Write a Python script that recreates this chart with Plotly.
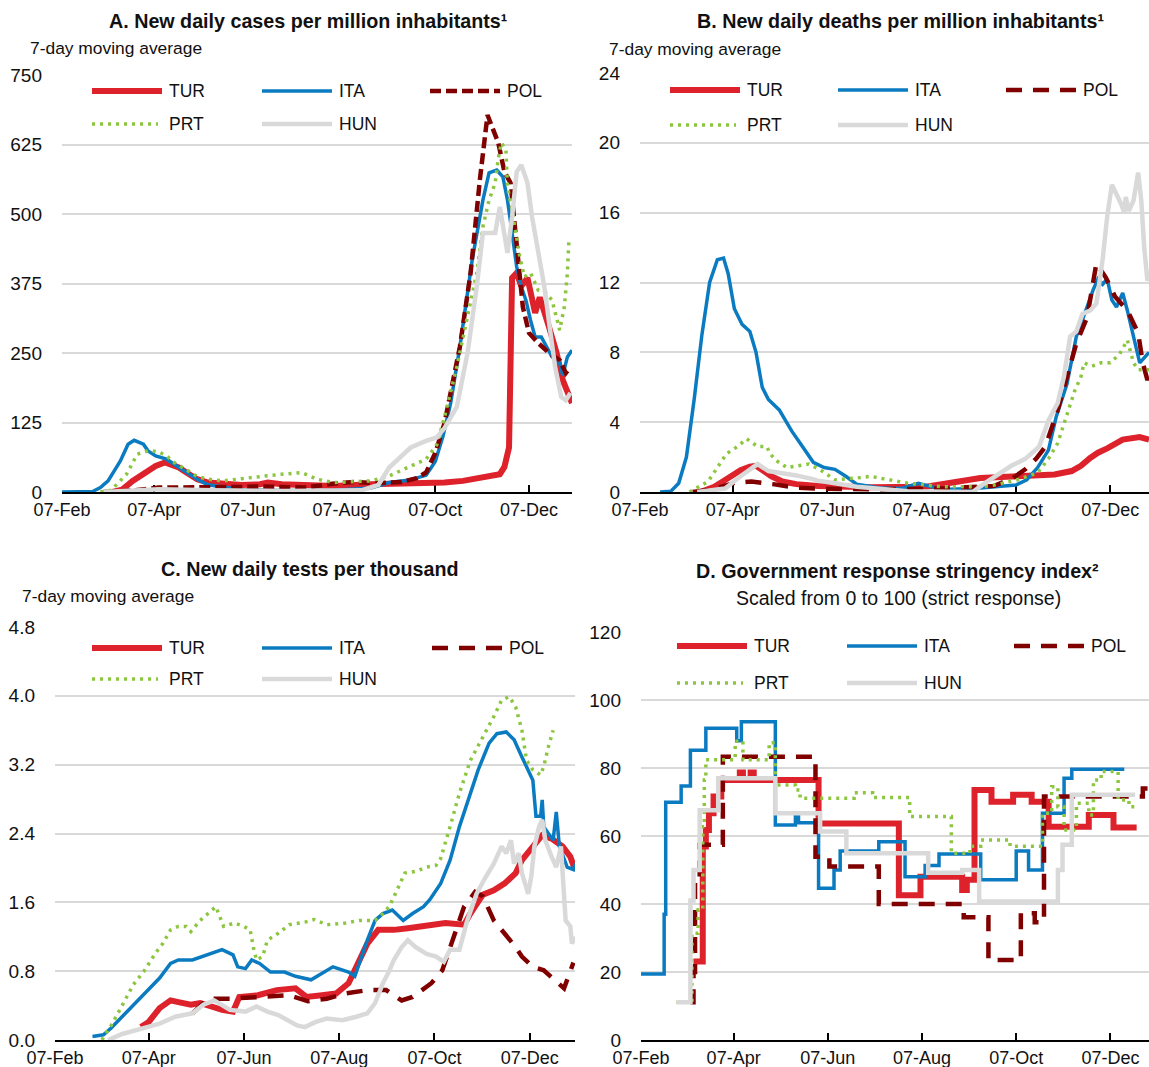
import plotly.graph_objects as go

# ---------------- data ----------------
tick_dates = ["2020-02-07", "2020-04-07", "2020-06-07", "2020-08-07", "2020-10-07", "2020-12-07"]
country_names = ["TUR", "ITA", "POL", "PRT", "HUN"]

# A. New daily cases per million inhabitants (7-day moving average)
a_tur_dates = ["2020-03-11", "2020-03-17", "2020-03-24", "2020-04-01", "2020-04-08", "2020-04-14", "2020-04-18",
               "2020-04-23", "2020-04-28", "2020-05-05", "2020-05-12", "2020-05-22", "2020-06-03", "2020-06-15",
               "2020-06-20", "2020-06-29", "2020-07-09", "2020-08-02", "2020-08-26", "2020-09-19", "2020-10-01",
               "2020-10-13", "2020-10-25", "2020-11-06", "2020-11-18", "2020-11-21", "2020-11-23", "2020-11-24",
               "2020-11-26", "2020-11-29", "2020-12-02", "2020-12-06", "2020-12-11", "2020-12-14", "2020-12-20",
               "2020-12-25", "2020-12-29", "2021-01-04"]
a_tur_vals = [0, 4, 20, 35, 47, 53, 50, 44, 35, 23, 17, 14, 12.5, 14, 17, 14, 12.5, 11, 14, 15, 17, 17, 20, 25, 32,
              45, 70, 80, 385, 394, 370, 385, 322, 350, 297, 250, 201, 160]

a_ita_dates = ["2020-02-07", "2020-02-22", "2020-02-27", "2020-03-03", "2020-03-08", "2020-03-16", "2020-03-21",
               "2020-03-25", "2020-03-31", "2020-04-03", "2020-04-08", "2020-04-15", "2020-04-23", "2020-04-28",
               "2020-05-05", "2020-05-12", "2020-05-22", "2020-06-03", "2020-06-27", "2020-08-02", "2020-08-26",
               "2020-09-07", "2020-09-19", "2020-10-01", "2020-10-07", "2020-10-12", "2020-10-17", "2020-10-23",
               "2020-10-31", "2020-11-07", "2020-11-11", "2020-11-16", "2020-11-20", "2020-11-23", "2020-11-26",
               "2020-11-29", "2020-12-02", "2020-12-05", "2020-12-08", "2020-12-11", "2020-12-15", "2020-12-19",
               "2020-12-22", "2020-12-27", "2020-12-29", "2021-01-01", "2021-01-04"]
a_ita_vals = [0, 0, 1, 8, 20, 56, 86, 93, 86, 74, 65, 59, 44, 35, 23, 13, 9, 4, 2.5, 3, 7, 17, 21, 30, 55, 100, 160,
              261, 417, 525, 574, 579, 567, 525, 466, 405, 369, 345, 309, 279, 279, 259, 243, 232, 210, 243, 255]

a_pol_dates = ["2020-03-05", "2020-03-25", "2020-04-10", "2020-04-25", "2020-05-10", "2020-06-01", "2020-06-15",
               "2020-07-01", "2020-07-15", "2020-08-01", "2020-08-15", "2020-09-01", "2020-09-15", "2020-09-25",
               "2020-10-01", "2020-10-07", "2020-10-13", "2020-10-23", "2020-10-30", "2020-11-05", "2020-11-10",
               "2020-11-17", "2020-11-21", "2020-11-25", "2020-11-29", "2020-12-03", "2020-12-07", "2020-12-13",
               "2020-12-20", "2020-12-27", "2020-12-31", "2021-01-03"]
a_pol_vals = [0, 3, 8, 8, 7, 9, 10, 8, 8, 15, 18, 16, 18, 25, 35, 70, 124, 261, 394, 561, 678, 628, 576, 556, 453,
              333, 286, 268, 250, 237, 214, 225]

a_prt_dates = ["2020-03-03", "2020-03-10", "2020-03-20", "2020-03-27", "2020-04-04", "2020-04-10", "2020-04-15",
               "2020-04-20", "2020-04-28", "2020-05-05", "2020-05-12", "2020-05-22", "2020-06-03", "2020-06-15",
               "2020-06-29", "2020-07-12", "2020-07-22", "2020-08-02", "2020-08-14", "2020-08-26", "2020-09-07",
               "2020-09-19", "2020-10-01", "2020-10-08", "2020-10-13", "2020-10-21", "2020-10-28", "2020-11-03",
               "2020-11-07", "2020-11-11", "2020-11-15", "2020-11-17", "2020-11-19", "2020-11-22", "2020-11-23",
               "2020-11-26", "2020-12-01", "2020-12-04", "2020-12-08", "2020-12-13", "2020-12-18", "2020-12-22",
               "2020-12-27", "2020-12-30", "2021-01-01", "2021-01-02"]
a_prt_vals = [0, 3, 32, 68, 75, 72, 65, 53, 40, 28, 23, 20, 24, 28, 32, 35, 23, 17, 18, 20, 29, 44, 59, 85, 135,
              225, 315, 394, 477, 525, 556, 600, 628, 615, 549, 507, 423, 387, 394, 363, 358, 345, 291, 333, 394, 453]

a_hun_dates = ["2020-03-05", "2020-04-10", "2020-05-15", "2020-07-01", "2020-08-20", "2020-08-31", "2020-09-07",
               "2020-09-14", "2020-09-21", "2020-10-01", "2020-10-08", "2020-10-13", "2020-10-21", "2020-10-28",
               "2020-11-03", "2020-11-07", "2020-11-11", "2020-11-15", "2020-11-18", "2020-11-23", "2020-11-26",
               "2020-11-29", "2020-12-02", "2020-12-06", "2020-12-09", "2020-12-13", "2020-12-17", "2020-12-21",
               "2020-12-24", "2020-12-28", "2020-12-31", "2021-01-03"]
a_hun_vals = [0, 5, 3, 2, 3, 13, 44, 62, 80, 92, 98, 115, 153, 250, 369, 466, 466, 466, 513, 430, 495, 576, 588,
              556, 495, 435, 369, 286, 225, 171, 165, 178]

# B. New daily deaths per million inhabitants (7-day moving average)
b_tur_dates = ["2020-03-17", "2020-03-20", "2020-03-26", "2020-04-01", "2020-04-06", "2020-04-12", "2020-04-18",
               "2020-04-22", "2020-04-27", "2020-05-02", "2020-05-09", "2020-05-18", "2020-06-01", "2020-07-05",
               "2020-08-10", "2020-08-21", "2020-09-02", "2020-09-14", "2020-10-08", "2020-11-01", "2020-11-12",
               "2020-11-18", "2020-11-24", "2020-11-29", "2020-12-05", "2020-12-15", "2020-12-26", "2021-01-01"]
b_tur_vals = [0, 0.1, 0.3, 0.63, 0.95, 1.25, 1.45, 1.5, 1.2, 0.9, 0.6, 0.45, 0.35, 0.27, 0.3, 0.45, 0.7, 0.8, 0.9,
              1.0, 1.2, 1.5, 1.95, 2.25, 2.5, 3.0, 3.15, 3.0]

b_ita_dates = ["2020-02-20", "2020-02-27", "2020-03-03", "2020-03-08", "2020-03-13", "2020-03-18", "2020-03-23",
               "2020-03-28", "2020-04-01", "2020-04-04", "2020-04-08", "2020-04-13", "2020-04-18", "2020-04-22",
               "2020-04-26", "2020-04-30", "2020-05-07", "2020-05-11", "2020-05-15", "2020-05-22", "2020-05-29",
               "2020-06-05", "2020-06-12", "2020-06-19", "2020-06-26", "2020-07-10", "2020-07-25", "2020-08-05",
               "2020-08-10", "2020-08-20", "2020-09-10", "2020-09-25", "2020-10-07", "2020-10-14", "2020-10-21",
               "2020-10-28", "2020-11-02", "2020-11-09", "2020-11-15", "2020-11-22", "2020-11-26", "2020-11-29",
               "2020-12-02", "2020-12-05", "2020-12-08", "2020-12-11", "2020-12-15", "2020-12-18", "2020-12-21",
               "2020-12-26", "2021-01-01"]
b_ita_vals = [0, 0.05, 0.5, 2, 5.3, 9, 12, 13.3, 13.4, 12.5, 10.5, 9.6, 9.2, 8, 6, 5.3, 4.7, 4.1, 3.5, 2.6, 1.7,
              1.4, 1.3, 0.9, 0.45, 0.25, 0.2, 0.5, 0.4, 0.15, 0.2, 0.3, 0.4, 0.7, 1.4, 2.4, 4.3, 6.2, 8.9, 10.6,
              11.6, 12.2, 11.9, 12.2, 11.0, 10.6, 11.4, 10.4, 9.3, 7.4, 8.0]

b_pol_dates = ["2020-03-12", "2020-03-25", "2020-04-08", "2020-04-19", "2020-05-03", "2020-05-18", "2020-06-01",
               "2020-07-05", "2020-08-21", "2020-09-23", "2020-10-05", "2020-10-13", "2020-10-20", "2020-10-26",
               "2020-11-03", "2020-11-09", "2020-11-15", "2020-11-22", "2020-11-27", "2020-11-28", "2020-12-04",
               "2020-12-10", "2020-12-18", "2020-12-25", "2020-12-28", "2020-12-31", "2021-01-01"]
b_pol_vals = [0, 0.15, 0.52, 0.6, 0.45, 0.25, 0.2, 0.15, 0.2, 0.35, 0.8, 1.3, 1.9, 2.6, 4.7, 6.6, 8.5, 10.0, 12.7,
              13.1, 12.3, 11.2, 10.4, 9.1, 7.4, 6.4, 7.0]

b_prt_dates = ["2020-03-10", "2020-03-22", "2020-04-03", "2020-04-10", "2020-04-16", "2020-04-23", "2020-04-29",
               "2020-05-01", "2020-05-05", "2020-05-12", "2020-05-19", "2020-05-26", "2020-06-02", "2020-06-12",
               "2020-06-26", "2020-07-05", "2020-07-17", "2020-07-29", "2020-08-21", "2020-09-14", "2020-09-23",
               "2020-10-08", "2020-10-21", "2020-10-28", "2020-11-03", "2020-11-09", "2020-11-14", "2020-11-18",
               "2020-11-20", "2020-11-25", "2020-12-01", "2020-12-07", "2020-12-13", "2020-12-18", "2020-12-22",
               "2020-12-25", "2021-01-01"]
b_prt_vals = [0, 0.6, 2.2, 2.6, 3.05, 2.6, 2.6, 2.2, 1.8, 1.4, 1.5, 1.6, 1.3, 0.7, 0.8, 0.9, 0.7, 0.5, 0.3, 0.3,
              0.4, 0.7, 1.1, 1.9, 2.8, 4.5, 5.8, 6.6, 7.4, 7.2, 7.4, 7.4, 7.9, 8.7, 7.4, 7.0, 7.0]

b_hun_dates = ["2020-03-15", "2020-04-02", "2020-04-12", "2020-04-23", "2020-04-30", "2020-05-09", "2020-05-18",
               "2020-05-28", "2020-06-01", "2020-06-12", "2020-06-26", "2020-07-29", "2020-08-21", "2020-09-09",
               "2020-09-16", "2020-09-24", "2020-10-04", "2020-10-13", "2020-10-22", "2020-10-28", "2020-11-03",
               "2020-11-07", "2020-11-11", "2020-11-15", "2020-11-19", "2020-11-24", "2020-11-28", "2020-12-02",
               "2020-12-05", "2020-12-08", "2020-12-11", "2020-12-14", "2020-12-16", "2020-12-17", "2020-12-19",
               "2020-12-22", "2020-12-25", "2020-12-27", "2020-12-29", "2020-12-31", "2021-01-01"]
b_hun_vals = [0, 0.2, 0.9, 1.6, 1.2, 1.1, 0.95, 0.75, 0.65, 0.5, 0.3, 0.05, 0.0, 0.0, 0.45, 0.95, 1.5, 1.9, 2.6,
              4.1, 5.1, 6.6, 8.9, 9.2, 10.2, 10.4, 10.8, 13.3, 15.8, 17.6, 17.1, 16.5, 16.0, 16.9, 16.1, 16.7, 18.3,
              16.7, 13.9, 12.1, 12.3]

# C. New daily tests per thousand (7-day moving average)
c_tur_dates = ["2020-04-02", "2020-04-07", "2020-04-14", "2020-04-21", "2020-04-26", "2020-05-04", "2020-05-10",
               "2020-05-17", "2020-05-24", "2020-05-31", "2020-06-04", "2020-06-16", "2020-06-28", "2020-07-10",
               "2020-07-17", "2020-07-27", "2020-08-05", "2020-08-13", "2020-08-18", "2020-08-25", "2020-09-01",
               "2020-09-11", "2020-09-20", "2020-10-02", "2020-10-14", "2020-10-26", "2020-10-30", "2020-11-07",
               "2020-11-14", "2020-11-21", "2020-11-28", "2020-12-02", "2020-12-09", "2020-12-15", "2020-12-21",
               "2020-12-28", "2021-01-02", "2021-01-05"]
c_tur_vals = [0.15, 0.21, 0.37, 0.46, 0.44, 0.41, 0.43, 0.39, 0.35, 0.33, 0.5, 0.52, 0.58, 0.6, 0.5, 0.52, 0.54,
              0.66, 0.85, 1.12, 1.28, 1.28, 1.30, 1.33, 1.36, 1.34, 1.47, 1.69, 1.74, 1.82, 1.94, 2.09, 2.25, 2.38,
              2.34, 2.25, 2.13, 1.98]

c_ita_dates = ["2020-03-02", "2020-03-09", "2020-03-14", "2020-03-21", "2020-03-28", "2020-04-04", "2020-04-11",
               "2020-04-14", "2020-04-21", "2020-04-26", "2020-05-05", "2020-05-15", "2020-05-24", "2020-05-31",
               "2020-06-03", "2020-06-08", "2020-06-12", "2020-06-17", "2020-06-24", "2020-07-03", "2020-07-10",
               "2020-07-20", "2020-07-27", "2020-08-03", "2020-08-13", "2020-08-17", "2020-08-25", "2020-08-30",
               "2020-09-04", "2020-09-10", "2020-09-17", "2020-09-23", "2020-09-30", "2020-10-04", "2020-10-11",
               "2020-10-17", "2020-10-23", "2020-10-30", "2020-11-04", "2020-11-11", "2020-11-16", "2020-11-22",
               "2020-11-27", "2020-12-02", "2020-12-09", "2020-12-11", "2020-12-14", "2020-12-15", "2020-12-16",
               "2020-12-22", "2020-12-24", "2020-12-26", "2020-12-31", "2021-01-04", "2021-01-05"]
c_ita_vals = [0.04, 0.06, 0.14, 0.27, 0.41, 0.54, 0.66, 0.72, 0.89, 0.93, 0.93, 0.99, 1.05, 0.99, 0.85, 0.83, 0.93,
              0.89, 0.79, 0.79, 0.74, 0.70, 0.78, 0.85, 0.79, 0.74, 1.16, 1.39, 1.47, 1.51, 1.39, 1.47, 1.55, 1.63,
              1.82, 2.09, 2.48, 2.87, 3.14, 3.45, 3.56, 3.58, 3.49, 3.29, 3.02, 2.6, 2.6, 2.79, 2.48, 2.32, 2.65,
              2.25, 2.01, 1.98, 2.05]

c_pol_dates = ["2020-05-05", "2020-05-15", "2020-05-29", "2020-06-17", "2020-07-06", "2020-07-18", "2020-07-30",
               "2020-08-11", "2020-08-25", "2020-09-06", "2020-09-16", "2020-09-23", "2020-10-05", "2020-10-12",
               "2020-10-19", "2020-10-26", "2020-11-02", "2020-11-07", "2020-11-14", "2020-11-21", "2020-11-28",
               "2020-12-02", "2020-12-09", "2020-12-16", "2020-12-23", "2020-12-29", "2021-01-04"]
c_pol_vals = [0.31, 0.48, 0.48, 0.50, 0.52, 0.45, 0.48, 0.54, 0.58, 0.58, 0.46, 0.50, 0.66, 0.81, 1.2, 1.55, 1.72,
              1.67, 1.39, 1.24, 1.08, 0.97, 0.85, 0.81, 0.70, 0.6, 0.9]

c_prt_dates = ["2020-03-08", "2020-03-14", "2020-03-21", "2020-03-28", "2020-04-04", "2020-04-07", "2020-04-11",
               "2020-04-16", "2020-04-21", "2020-04-26", "2020-05-01", "2020-05-04", "2020-05-10", "2020-05-15",
               "2020-05-20", "2020-05-25", "2020-06-01", "2020-06-07", "2020-06-11", "2020-06-13", "2020-06-15",
               "2020-06-19", "2020-06-22", "2020-06-29", "2020-07-06", "2020-07-16", "2020-07-22", "2020-07-30",
               "2020-08-11", "2020-08-20", "2020-08-30", "2020-09-04", "2020-09-08", "2020-09-13", "2020-09-18",
               "2020-09-25", "2020-10-02", "2020-10-08", "2020-10-11", "2020-10-17", "2020-10-23", "2020-10-30",
               "2020-11-07", "2020-11-14", "2020-11-19", "2020-11-24", "2020-11-28", "2020-12-02", "2020-12-05",
               "2020-12-09", "2020-12-14", "2020-12-16", "2020-12-19", "2020-12-22"]
c_prt_vals = [0, 0.17, 0.4, 0.64, 0.8, 0.89, 1.0, 1.12, 1.28, 1.32, 1.32, 1.26, 1.39, 1.47, 1.55, 1.32, 1.36, 1.32,
              1.28, 1.08, 0.93, 0.97, 1.16, 1.24, 1.34, 1.37, 1.40, 1.34, 1.36, 1.39, 1.39, 1.47, 1.55, 1.74, 1.94,
              1.96, 2.01, 2.03, 2.11, 2.48, 2.87, 3.25, 3.52, 3.76, 3.95, 3.99, 3.87, 3.6, 3.25, 3.14, 3.08, 3.18,
              3.41, 3.6]

c_hun_dates = ["2020-03-12", "2020-03-21", "2020-04-02", "2020-04-14", "2020-04-24", "2020-05-05", "2020-05-12",
               "2020-05-19", "2020-05-29", "2020-06-08", "2020-06-15", "2020-06-22", "2020-06-29", "2020-07-11",
               "2020-07-16", "2020-07-23", "2020-07-30", "2020-08-09", "2020-08-18", "2020-08-25", "2020-08-30",
               "2020-09-04", "2020-09-08", "2020-09-11", "2020-09-16", "2020-09-20", "2020-09-25", "2020-10-02",
               "2020-10-08", "2020-10-13", "2020-10-17", "2020-10-23", "2020-10-28", "2020-11-03", "2020-11-09",
               "2020-11-14", "2020-11-19", "2020-11-22", "2020-11-25", "2020-11-27", "2020-11-30", "2020-12-02",
               "2020-12-06", "2020-12-08", "2020-12-10", "2020-12-13", "2020-12-15", "2020-12-17", "2020-12-21",
               "2020-12-24", "2020-12-27", "2020-12-29", "2020-12-30", "2021-01-02", "2021-01-03", "2021-01-05"]
c_hun_vals = [0, 0.07, 0.13, 0.19, 0.27, 0.31, 0.41, 0.46, 0.35, 0.33, 0.39, 0.33, 0.29, 0.17, 0.15, 0.21, 0.25,
              0.23, 0.27, 0.31, 0.43, 0.66, 0.8, 0.93, 1.08, 1.16, 1.08, 1.0, 0.97, 0.91, 1.05, 1.05, 1.39, 1.7, 1.9,
              2.05, 2.25, 2.17, 2.32, 2.05, 2.17, 1.94, 1.7, 1.9, 2.25, 2.48, 2.56, 2.32, 2.13, 2.01, 2.25, 1.78,
              1.39, 1.32, 1.12, 1.2]

# D. Government response stringency index (0 to 100), values at each change
d_tur_dates = ["2020-03-12", "2020-03-18", "2020-03-20", "2020-03-22", "2020-03-25", "2020-03-30", "2020-04-11",
               "2020-04-13", "2020-04-18", "2020-04-20", "2020-06-01", "2020-07-23", "2020-08-06", "2020-09-02",
               "2020-09-05", "2020-09-10", "2020-09-21", "2020-10-05", "2020-10-17", "2020-10-28", "2020-11-23",
               "2020-12-09", "2020-12-24"]
d_tur_vals = [23.1, 56.9, 61.8, 66.7, 71.6, 76.5, 78.7, 76.5, 78.7, 76.5, 63.7, 42.6, 48.0, 44.1, 47.1, 73.5, 70.1,
              72.1, 70.1, 62.7, 66.2, 62.5, 62.5]

d_ita_dates = ["2020-02-07", "2020-02-22", "2020-02-23", "2020-03-04", "2020-03-10", "2020-03-20", "2020-04-09",
               "2020-04-12", "2020-05-04", "2020-05-17", "2020-05-19", "2020-06-01", "2020-06-11", "2020-06-15",
               "2020-07-10", "2020-07-27", "2020-08-09", "2020-08-18", "2020-09-14", "2020-10-07", "2020-10-15",
               "2020-10-24", "2020-11-07", "2020-11-12", "2020-12-16"]
d_ita_vals = [19.4, 37, 69.9, 74.7, 85.2, 91.7, 88, 93.6, 63.2, 65.7, 63.9, 44.6, 50, 55.6, 58.3, 48.0, 51.3, 54.7,
              47.1, 55.6, 50, 66.7, 77, 79.6, 79.6]

d_pol_dates = ["2020-03-10", "2020-03-12", "2020-03-13", "2020-03-16", "2020-03-31", "2020-05-30", "2020-06-08",
               "2020-07-10", "2020-09-03", "2020-09-19", "2020-10-10", "2020-10-19", "2020-10-25", "2020-12-28",
               "2021-01-01"]
d_pol_vals = [11.1, 20, 46.3, 57.4, 83.3, 53.9, 51, 40, 36.1, 23.5, 37.3, 34.6, 71.6, 74, 74]

d_prt_dates = ["2020-03-01", "2020-03-06", "2020-03-11", "2020-03-15", "2020-03-18", "2020-03-19", "2020-03-20",
               "2020-04-08", "2020-04-13", "2020-04-30", "2020-05-04", "2020-05-17", "2020-05-20", "2020-06-24",
               "2020-07-06", "2020-07-30", "2020-08-26", "2020-09-07", "2020-09-14", "2020-10-03", "2020-10-24",
               "2020-10-30", "2020-11-03", "2020-11-07", "2020-11-15", "2020-11-23", "2020-11-26", "2020-12-01",
               "2020-12-12", "2020-12-19", "2020-12-23"]
d_prt_vals = [11.1, 11.1, 31.4, 38.3, 62.7, 76.5, 82.4, 87.9, 82.4, 87.4, 75, 73.5, 71.1, 72.7, 71.3, 65.7, 54.9,
              57, 58.8, 57, 66.7, 74.5, 68.6, 61.8, 69.6, 66.2, 76.5, 79, 70.6, 68.6, 68.6]

d_hun_dates = ["2020-03-01", "2020-03-10", "2020-03-12", "2020-03-16", "2020-03-28", "2020-05-04", "2020-06-02",
               "2020-06-19", "2020-08-11", "2020-09-02", "2020-09-13", "2020-11-03", "2020-11-06", "2020-11-12",
               "2020-12-23"]
d_hun_vals = [11.1, 41, 50, 67.6, 77, 66.7, 61.3, 54.9, 49.2, 50, 40.7, 50, 57.4, 72.1, 72.1]

# ---------------- styling ----------------
W, H = 1149, 1067
FONT = "Liberation Sans, Arial, sans-serif"
TXT = "#111111"
GRID = "#d9d9d9"


def px(x):
    return x / W


def py(y):
    return 1 - y / H


def styles(long_dash):
    pol_dash = "16px,11px" if long_dash else "11px,5px"
    return {
        "TUR": dict(color="#dd222c", width=6, dash="solid"),
        "ITA": dict(color="#0a7bc1", width=3.5, dash="solid"),
        "POL": dict(color="#800000", width=4.5, dash=pol_dash),
        "PRT": dict(color="#8cc63f", width=3.5, dash="3px,5px"),
        "HUN": dict(color="#d9d9d9", width=4.5, dash="solid"),
    }


panels = [
    dict(series={"TUR": (a_tur_dates, a_tur_vals), "ITA": (a_ita_dates, a_ita_vals),
                 "POL": (a_pol_dates, a_pol_vals), "PRT": (a_prt_dates, a_prt_vals),
                 "HUN": (a_hun_dates, a_hun_vals)},
         xdom=(62, 572), ydom=(492, 75), xend="2021-01-04", yrange=(0, 750), dtick=125, fmt="d",
         step=False, long_dash=False),
    dict(series={"TUR": (b_tur_dates, b_tur_vals), "ITA": (b_ita_dates, b_ita_vals),
                 "POL": (b_pol_dates, b_pol_vals), "PRT": (b_prt_dates, b_prt_vals),
                 "HUN": (b_hun_dates, b_hun_vals)},
         xdom=(640, 1149), ydom=(492, 73), xend="2021-01-01", yrange=(0, 24), dtick=4, fmt="d",
         step=False, long_dash=True),
    dict(series={"TUR": (c_tur_dates, c_tur_vals), "ITA": (c_ita_dates, c_ita_vals),
                 "POL": (c_pol_dates, c_pol_vals), "PRT": (c_prt_dates, c_prt_vals),
                 "HUN": (c_hun_dates, c_hun_vals)},
         xdom=(55, 575), ydom=(1040, 627), xend="2021-01-05", yrange=(0, 4.8), dtick=0.8, fmt=".1f",
         step=False, long_dash=True),
    dict(series={"TUR": (d_tur_dates, d_tur_vals), "ITA": (d_ita_dates, d_ita_vals),
                 "POL": (d_pol_dates, d_pol_vals), "PRT": (d_prt_dates, d_prt_vals),
                 "HUN": (d_hun_dates, d_hun_vals)},
         xdom=(641, 1149), ydom=(1040, 632), xend="2021-01-01", yrange=(0, 120), dtick=20, fmt="d",
         step=True, long_dash=True),
]

fig = go.Figure()
layout = dict(
    width=W, height=H, margin=dict(l=0, r=0, t=0, b=0, pad=0, autoexpand=False),
    paper_bgcolor="white", plot_bgcolor="white", showlegend=False,
    font=dict(family=FONT, size=18, color=TXT),
)
shapes = []
annotations = []

for i, p in enumerate(panels, start=1):
    sfx = "" if i == 1 else str(i)
    xa, ya = "x" + sfx, "y" + sfx
    st = styles(p["long_dash"])
    for name in country_names:
        dates, vals = p["series"][name]
        fig.add_trace(go.Scatter(
            x=dates, y=vals, mode="lines", name=name, xaxis=xa, yaxis=ya,
            line=dict(color=st[name]["color"], width=st[name]["width"], dash=st[name]["dash"],
                      shape="hv" if p["step"] else "linear"),
            hoverinfo="x+y+name",
        ))
    layout["xaxis" + sfx] = dict(
        domain=[px(p["xdom"][0]), px(p["xdom"][1])], anchor=ya, type="date", automargin=False,
        range=["2020-02-07", p["xend"]], tickvals=tick_dates, tickformat="%d-%b",
        showgrid=False, zeroline=False, showline=True, linecolor="#000000", linewidth=2,
        ticks="inside", ticklen=7, tickwidth=2, tickcolor="#000000",
        tickfont=dict(family=FONT, size=18, color=TXT), layer="below traces",
    )
    y0, y1 = p["yrange"]
    nt = int(round((y1 - y0) / p["dtick"]))
    yt = [round(y0 + k * p["dtick"], 2) for k in range(nt + 1)]
    layout["yaxis" + sfx] = dict(
        domain=[py(p["ydom"][0]), py(p["ydom"][1])], anchor=xa, range=[y0, y1], automargin=False,
        tickvals=yt, tickformat=p["fmt"], showgrid=True, gridcolor=GRID, gridwidth=2,
        zeroline=False, showline=False, ticks="", ticklabelstandoff=19,
        tickfont=dict(family=FONT, size=19, color=TXT), layer="below traces",
    )

# panel titles and subtitles
titles = [
    ("<b>A. New daily cases per million inhabitants¹</b>", 308, 21),
    ("<b>B. New daily deaths per million inhabitants¹</b>", 900, 21),
    ("<b>C. New daily tests per thousand</b>", 310, 569),
    ("<b>D. Government response stringency index²</b>", 897, 571),
]
for text, x, y in titles:
    annotations.append(dict(text=text, x=px(x), y=py(y), xref="paper", yref="paper", xanchor="center",
                            yanchor="middle", showarrow=False, font=dict(family=FONT, size=19.7, color=TXT)))

subtitles = [
    ("7-day moving average", 28, 48, "left", 17.4),
    ("7-day moving average", 607, 49, "left", 17.4),
    ("7-day moving average", 20, 596, "left", 17.4),
    ("Scaled from 0 to 100 (strict response)", 898, 598, "center", 19.5),
]
for text, x, y, anc, size in subtitles:
    annotations.append(dict(text=text, x=px(x), y=py(y), xref="paper", yref="paper", xanchor=anc,
                            yanchor="middle", showarrow=False, font=dict(family=FONT, size=size, color=TXT)))

# in-panel keys: two rows, three columns
keys = [
    dict(rows=(91, 124), cols=(92, 262, 430), long_dash=False),
    dict(rows=(90, 125), cols=(670, 838, 1006), long_dash=True),
    dict(rows=(648, 679), cols=(92, 262, 432), long_dash=True),
    dict(rows=(646, 683), cols=(677, 847, 1014), long_dash=True),
]
key_slots = {"TUR": (0, 0), "ITA": (0, 1), "POL": (0, 2), "PRT": (1, 0), "HUN": (1, 1)}
for k in keys:
    st = styles(k["long_dash"])
    for name in country_names:
        r, c = key_slots[name]
        yy = k["rows"][r]
        x0 = k["cols"][c]
        x1 = x0 + (66 if name == "PRT" else 70)
        shapes.append(dict(type="line", xref="paper", yref="paper", x0=px(x0), x1=px(x1),
                           y0=py(yy), y1=py(yy),
                           line=dict(color=st[name]["color"], width=st[name]["width"], dash=st[name]["dash"])))
        annotations.append(dict(text=name, x=px(k["cols"][c] + 75), y=py(yy), xref="paper", yref="paper",
                                xanchor="left", yanchor="middle", showarrow=False,
                                font=dict(family=FONT, size=17.5, color=TXT)))

layout["shapes"] = shapes
layout["annotations"] = annotations
fig.update_layout(**layout)

fig.write_html("out.html")
